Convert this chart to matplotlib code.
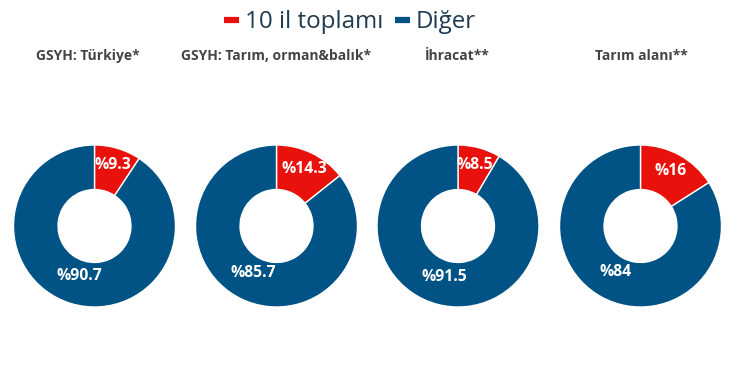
import numpy as np
import matplotlib.pyplot as plt
from matplotlib.lines import Line2D

titles = ["GSYH: Türkiye*", "GSYH: Tarım, orman&balık*", "İhracat**", "Tarım alanı**"]
top10 = [9.3, 14.3, 8.5, 16]
other = [90.7, 85.7, 91.5, 84]
series_names = ["10 il toplamı", "Diğer"]

RED = "#e8110c"
BLUE = "#005384"

plt.rcParams['font.family'] = ['Open Sans', 'DejaVu Sans']

fig = plt.figure(figsize=(7.55, 3.85), dpi=100)
W, H = 755, 385

centers_x = [94.5, 276.5, 458, 640.5]
center_y = 226
R = 81
title_x = [88, 276, 457, 641]

for i in range(4):
    cx = centers_x[i]
    ax = fig.add_axes([(cx - R) / W, (H - center_y - R) / H, 2 * R / W, 2 * R / H])
    vals = [top10[i], other[i]]
    ax.pie(vals, colors=[RED, BLUE], startangle=90, counterclock=False,
           wedgeprops=dict(width=0.55, edgecolor='white', linewidth=1))
    ax.set_xlim(-1, 1)
    ax.set_ylim(-1, 1)
    ax.set_aspect('equal')
    ax.axis('off')

    # labels at slice middle
    start = 0
    for v, dist in zip(vals, [0.78, 0.65]):
        mid = np.deg2rad(90 - 360 * (start + v / 2) / 100)
        start += v
        lbl = f"%{v:g}"
        ax.text(dist * np.cos(mid), dist * np.sin(mid), lbl, ha='center', va='center',
                color='white', fontsize=11.3, fontweight='bold')

    fig.text(title_x[i] / W, 1 - 56 / H, titles[i], ha='center', va='center',
             fontsize=10, fontweight='bold', color='#444444')

# legend markers: short thick bars
handles = [Line2D([0], [0], color=c, lw=4.5, solid_capstyle='butt') for c in (RED, BLUE)]
leg = fig.legend(handles, series_names, loc='center', bbox_to_anchor=(350 / W, 1 - 22 / H),
                 ncol=2, frameon=False, fontsize=17.4, handlelength=0.6,
                 handletextpad=0.25, columnspacing=0.5, borderpad=0)
for t in leg.get_texts():
    t.set_color('#1f3b50')

fig.savefig("out.png", dpi=100)
